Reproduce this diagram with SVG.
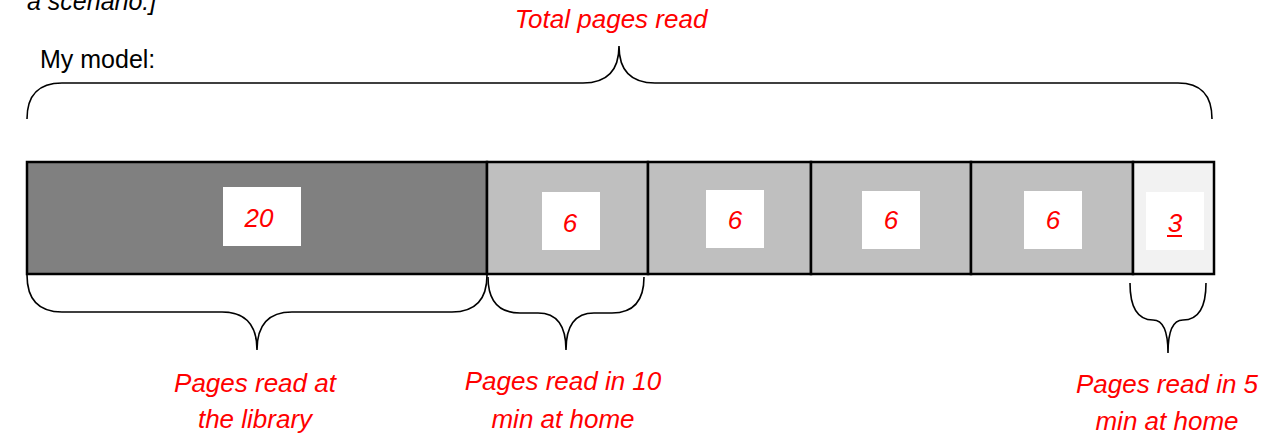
<svg xmlns="http://www.w3.org/2000/svg" width="1270" height="439" viewBox="0 0 1270 439">
<style>
.seg{stroke:#000;stroke-width:2.5}
.dark{fill:#808080}
.mid{fill:#BFBFBF}
.light{fill:#F2F2F2}
.box{fill:#fff}
.num{font-family:"Liberation Sans",Arial,sans-serif;font-style:italic;font-size:26px;fill:#FF0000;text-anchor:middle}
.lbl{font-family:"Liberation Sans",Arial,sans-serif;font-style:italic;font-size:26px;fill:#FF0000;text-anchor:middle}
.plain{font-family:"Liberation Sans",Arial,sans-serif;font-size:25px;fill:#000}
.brace{fill:none;stroke:#000;stroke-width:1.6}
</style>
<rect width="1270" height="439" fill="#fff"/>
<text class="plain" x="27" y="10" font-style="italic">a scenario.]</text>
<text class="plain" x="40" y="68">My model:</text>

<g id="seg-library">
<rect class="seg dark" x="27" y="162" width="460" height="112"/>
<rect class="box" x="223" y="187" width="78" height="59"/>
<text class="num" x="259" y="227">20</text>
</g>
<g id="seg-home-1">
<rect class="seg mid" x="487" y="162" width="161" height="112"/>
<rect class="box" x="542" y="192" width="58" height="58"/>
<text class="num" x="570" y="232">6</text>
</g>
<g id="seg-home-2">
<rect class="seg mid" x="648" y="162" width="163" height="112"/>
<rect class="box" x="706" y="190" width="58" height="58"/>
<text class="num" x="735" y="229">6</text>
</g>
<g id="seg-home-3">
<rect class="seg mid" x="811" y="162" width="160" height="112"/>
<rect class="box" x="862" y="191" width="58" height="58"/>
<text class="num" x="891" y="229">6</text>
</g>
<g id="seg-home-4">
<rect class="seg mid" x="971" y="162" width="162" height="112"/>
<rect class="box" x="1024" y="191" width="58" height="58"/>
<text class="num" x="1053" y="229">6</text>
</g>
<g id="seg-home-5min">
<rect class="seg light" x="1133" y="162" width="81" height="112"/>
<rect class="box" x="1146" y="192" width="58" height="58"/>
<text class="num" x="1175" y="232">3</text>
<rect x="1167" y="235" width="15" height="2" fill="#FF0000"/>
</g>

<g id="connectors">
<path class="brace" d="M27,119 Q27,83 62,83 L583,83 Q619,83 619,46 Q619,83 655,83 L1178,83 Q1212,83 1212,119"/>
<path class="brace" d="M27,275 Q27,312 62,312 L222,312 Q257,312 257,350 Q257,312 292,312 L452,312 Q487,312 487,275"/>
<path class="brace" d="M488,277 Q488,313 520,313 L538,313 Q566,313 566,350 Q566,313 594,313 L612,313 Q644,313 644,277"/>
<path class="brace" d="M1130,283 Q1130,320 1153,320 Q1168,320 1168,353 Q1168,320 1183,320 Q1206,320 1206,283"/>
</g>

<g id="labels">
<text class="lbl" x="611" y="28">Total pages read</text>
<text class="lbl" x="255" y="392">Pages read at</text>
<text class="lbl" x="255" y="428">the library</text>
<text class="lbl" x="563" y="390">Pages read in 10</text>
<text class="lbl" x="563" y="428">min at home</text>
<text class="lbl" x="1167" y="393">Pages read in 5</text>
<text class="lbl" x="1167" y="430">min at home</text>
</g>
</svg>
